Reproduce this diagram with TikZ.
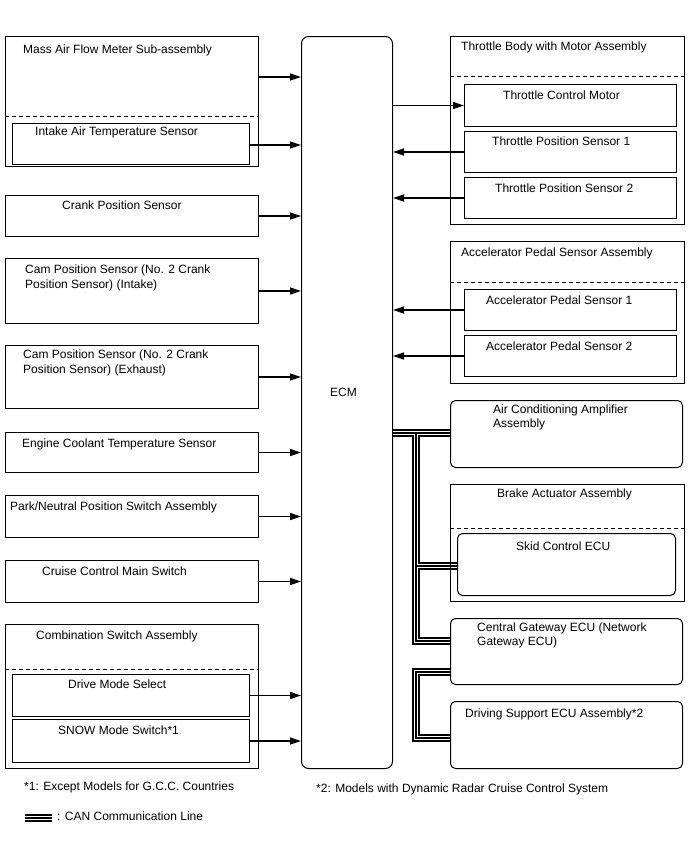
\documentclass[tikz,border=0pt]{standalone}
\usepackage{fontspec}
\setmainfont{Liberation Sans}
\usetikzlibrary{arrows.meta}
\pgfdeclarelayer{bg}
\pgfsetlayers{bg,main}
\newcommand\mybox[6][box]{\node[#1,minimum width=#5pt,minimum height=#6pt] (#2) at (#3,#4) {};}
\newcommand\canpaths[1]{%
  \draw[#1] (ecm.east |- j1) -- (ac.west |- j1);
  \draw[#1] (j1) -- (j3) -- (cg.west |- j3);
  \draw[#1] (j2) -- (skid.west |- j2);
  \draw[#1] (cg.west |- j4) -- (j4) -- (j5) -- (ds.west |- j5);
  \draw[#1] (lg1) -- (lg2);
}
\begin{document}
\begin{tikzpicture}[x=1pt,y=-1pt,
  box/.style={draw,line width=1pt,inner sep=0pt,anchor=north west},
  rbox/.style={box,rounded corners=5pt},
  lbl/.style={inner sep=0pt,anchor=west,align=left,font=\fontsize{12}{14.5}\selectfont},
  arr/.style={line width=1.35pt,-{Triangle[length=11pt,width=7pt]}},
  dsh/.style={line width=0.9pt,dash pattern=on 4pt off 3pt},
  canA/.style={line width=7.4pt},
  canB/.style={line width=4.6pt,white},
  canC/.style={line width=1.2pt},
]
\useasboundingbox (0,0) rectangle (688,852);

% left column
\mybox{maf}{5}{36}{253}{130}
\mybox{iat}{12}{123}{237}{41}
\mybox{crank}{5}{195}{253}{41}
\mybox{camin}{5}{258}{253}{65}
\mybox{camex}{5}{345}{253}{63}
\mybox{ect}{5}{432}{253}{40}
\mybox{pnp}{5}{495}{253}{42}
\mybox{ccms}{5}{560}{253}{42}
\mybox{comb}{5}{624}{253}{144}
\mybox{dms}{12}{674}{237}{42}
\mybox{snow}{12}{719}{237}{43}

% ECM
\mybox[box,rounded corners=7pt]{ecm}{301}{36}{91}{732}

% right column
\mybox{tb}{450}{36}{234}{188}
\mybox{tcm}{464}{84}{212}{42}
\mybox{tps1}{464}{131}{212}{41}
\mybox{tps2}{464}{177}{212}{41}
\mybox{aps}{450}{241}{234}{142}
\mybox{aps1}{464}{289}{212}{41}
\mybox{aps2}{464}{335}{212}{41}
\mybox[rbox]{ac}{450}{400}{232}{67}
\mybox{brake}{450}{484}{234}{117}
\mybox[rbox]{skid}{457}{533}{218}{62}
\mybox[rbox]{cg}{450}{618}{232}{66}
\mybox[rbox]{ds}{450}{701}{232}{67}

% dashed separators
\draw[dsh] (maf.west |- 0,116) -- (maf.east |- 0,116);
\draw[dsh] (comb.west |- 0,669) -- (comb.east |- 0,669);
\draw[dsh] (tb.west |- 0,76) -- (tb.east |- 0,76);
\draw[dsh] (aps.west |- 0,282) -- (aps.east |- 0,282);
\draw[dsh] (brake.west |- 0,528) -- (brake.east |- 0,528);

% labels
\node[lbl] (tmaf) at (23,50) {Mass Air Flow Meter Sub-assembly};
\node[lbl] (tiat) at (35,132) {Intake Air Temperature Sensor};
\node[lbl] (tcrank) at (62,205) {Crank Position Sensor};
\node[lbl] (tcamin) at (25,278) {Cam Position Sensor (No. 2 Crank\\Position Sensor) (Intake)};
\node[lbl] (tcamex) at (23,363) {Cam Position Sensor (No. 2 Crank\\Position Sensor) (Exhaust)};
\node[lbl] (tect) at (22,444) {Engine Coolant Temperature Sensor};
\node[lbl] (tpnp) at (10,507) {Park/Neutral Position Switch Assembly};
\node[lbl] (tccms) at (42,571) {Cruise Control Main Switch};
\node[lbl] (tcomb) at (36,636) {Combination Switch Assembly};
\node[lbl] (tdms) at (68,684) {Drive Mode Select};
\node[lbl] (tsnow) at (58,730) {SNOW Mode Switch*1};
\node[lbl] (tecm) at (330,392) {ECM};
\node[lbl] (ttb) at (461,47) {Throttle Body with Motor Assembly};
\node[lbl] (ttcm) at (503,95) {Throttle Control Motor};
\node[lbl] (ttps1) at (492,141) {Throttle Position Sensor 1};
\node[lbl] (ttps2) at (495,188) {Throttle Position Sensor 2};
\node[lbl] (taps) at (461,253) {Accelerator Pedal Sensor Assembly};
\node[lbl] (taps1) at (486,300) {Accelerator Pedal Sensor 1};
\node[lbl] (taps2) at (486,346) {Accelerator Pedal Sensor 2};
\node[lbl] (tac) at (493,417.5) {Air Conditioning Amplifier\\Assembly};
\node[lbl] (tbrake) at (497,494) {Brake Actuator Assembly};
\node[lbl] (tskid) at (516,546) {Skid Control ECU};
\node[lbl] (tcg) at (477,635.5) {Central Gateway ECU (Network\\Gateway ECU)};
\node[lbl] (tds) at (465,714) {Driving Support ECU Assembly*2};
\node[lbl] (tn1) at (24,787) {*1: Except Models for G.C.C. Countries};
\node[lbl] (tn2) at (316,789) {*2: Models with Dynamic Radar Cruise Control System};
\node[lbl] (tleg) at (57,816) {: CAN Communication Line};

% signal arrows
\draw[arr] (maf.east |- 0,77) -- (ecm.west |- 0,77);
\draw[arr] (iat.east |- 0,145) -- (ecm.west |- 0,145);
\draw[arr] (crank.east) -- (crank.east -| ecm.west);
\draw[arr] (camin.east) -- (camin.east -| ecm.west);
\draw[arr] (camex.east) -- (camex.east -| ecm.west);
\draw[arr] (ect.east) -- (ect.east -| ecm.west);
\draw[arr] (pnp.east) -- (pnp.east -| ecm.west);
\draw[arr] (ccms.east) -- (ccms.east -| ecm.west);
\draw[arr] (dms.east) -- (dms.east -| ecm.west);
\draw[arr] (snow.east) -- (snow.east -| ecm.west);
\draw[arr] (tcm.west -| ecm.east) -- (tcm.west);
\draw[arr] (tps1.west) -- (tps1.west -| ecm.east);
\draw[arr] (tps2.west) -- (tps2.west -| ecm.east);
\draw[arr] (aps1.west) -- (aps1.west -| ecm.east);
\draw[arr] (aps2.west) -- (aps2.west -| ecm.east);

% CAN lines
\coordinate (j1) at (416,433);
\coordinate (j2) at (416,566);
\coordinate (j3) at (416,641);
\coordinate (j4) at (416,672);
\coordinate (j5) at (416,738);
\coordinate (lg1) at (25,818);
\coordinate (lg2) at (52,818);
\begin{pgfonlayer}{bg}
  \fill[white] (0,0) rectangle (688,852);
  \canpaths{canA}
  \canpaths{canB}
  \canpaths{canC}
\end{pgfonlayer}
\end{tikzpicture}
\end{document}
